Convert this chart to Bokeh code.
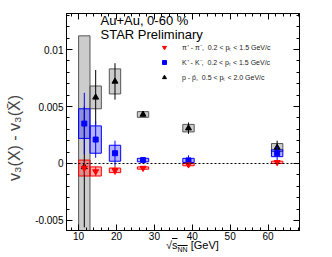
import numpy as np
from bokeh.plotting import figure
from bokeh.layouts import column
from bokeh.models import (ColumnDataSource, Span, Label, LinearAxis, FixedTicker,
                          CustomJSTickFormatter, Legend, LegendItem, Range1d, Div)
from bokeh.embed import file_html
from bokeh.resources import INLINE

# ---------------- data ----------------
energies = [11.5, 14.5, 19.6, 27.0, 39.0, 62.4]

proton_val = [-0.0003, 0.0058, 0.0072, 0.0043, 0.0031, 0.0014]
proton_stat = [0.0053, 0.0024, 0.0016, 0.0002, 0.0005, 0.0006]
proton_sys = [0.0115, 0.0010, 0.0011, 0.00025, 0.00033, 0.00035]

kaon_val = [0.0035, 0.0021, 0.0009, 0.0003, 0.00027, 0.0009]
kaon_stat = [0.0027, 0.0016, 0.0011, 0.0002, 0.00045, 0.0006]
kaon_sys = [0.0013, 0.0012, 0.0007, 0.00015, 0.00018, 0.0003]

pion_val = [-0.0004, -0.0007, -0.0006, -0.0004, -0.0001, 0.0001]
pion_stat = [0.0006, 0.0004, 0.0004, 0.00015, 0.0001, 0.0001]
pion_sys = [0.0007, 0.0004, 0.0002, 0.0001, 0.0001, 0.0001]

sys_box_width = 3.0

x_major = [10, 20, 30, 40, 50, 60]
x_minor = list(range(8, 69, 2))
y_major = [-0.005, 0.0, 0.005, 0.01]
y_minor = [round(-0.005 + 0.001 * i, 4) for i in range(-1, 19)]

legend_labels = ["\u03c0\u207a - \u03c0\u207b,  0.2 < p\u209c < 1.5 GeV/c",
                 "K\u207a - K\u207b,  0.2 < p\u209c < 1.5 GeV/c",
                 "p - p\u0304,  0.5 < p\u209c < 2.0 GeV/c"]
y_title = "v\u2083(X) - v\u2083(X\u0304)"

FONT = "Liberation Sans"

W, H = 332, 257
FL, FR, FT, FB = 66, 299, 13, 230   # frame edges on the page
p = figure(width=W, height=H, output_backend="svg", toolbar_location=None,
           x_range=Range1d(6.8, 68.3), y_range=Range1d(-0.00588, 0.01316),
           min_border_left=FL, min_border_right=W - FR, min_border_top=FT,
           min_border_bottom=H - FB, x_axis_type=None, y_axis_type=None)
p.grid.visible = False
p.outline_line_color = "black"
p.outline_line_width = 1
p.background_fill_color = "white"
p.border_fill_color = "white"


def make_axis(labels=True):
    ax = LinearAxis()
    ax.major_tick_in = 6
    ax.major_tick_out = 0
    ax.minor_tick_in = 3
    ax.minor_tick_out = 0
    ax.axis_line_color = "black"
    ax.major_tick_line_color = "black"
    ax.minor_tick_line_color = "black"
    ax.major_label_text_font = FONT
    ax.major_label_text_font_size = "10px"
    ax.major_label_text_color = "black"
    ax.major_label_standoff = 3
    ax.formatter = CustomJSTickFormatter(code="return tick.toString();")
    if not labels:
        ax.formatter = CustomJSTickFormatter(code="return '';")
        ax.major_label_standoff = 0
        ax.major_label_text_font_size = "1px"
    return ax


xt = FixedTicker(ticks=x_major, minor_ticks=x_minor)
yt = FixedTicker(ticks=y_major, minor_ticks=y_minor)

bx = make_axis(True); bx.ticker = xt; bx.major_label_standoff = 1
tx = make_axis(False); tx.ticker = xt
ly = make_axis(True); ly.ticker = yt
ly.axis_label = y_title + "\u2003\u2003"
ly.axis_label_text_font = FONT
ly.axis_label_text_font_size = "16px"
ly.axis_label_text_font_style = "normal"
ly.axis_label_standoff = 9
ry = make_axis(False); ry.ticker = yt
p.add_layout(bx, "below")
p.add_layout(tx, "above")
p.add_layout(ly, "left")
p.add_layout(ry, "right")

p.add_layout(Span(location=0, dimension="width", line_color="black",
                  line_dash="2 2", line_width=1))


def species(val, stat, sys, fill, falpha, lcolor):
    x = np.array(energies)
    v = np.array(val); st = np.array(stat); sy = np.array(sys)
    src = ColumnDataSource(dict(x=x, v=v, lo=v - st, hi=v + st,
                                bl=x - sys_box_width / 2, br=x + sys_box_width / 2,
                                bb=v - sy, bt=v + sy))
    p.quad(left="bl", right="br", bottom="bb", top="bt", source=src,
           fill_color=fill, fill_alpha=falpha, line_color=lcolor, line_width=1)
    return src


def points(src, color, marker, msize):
    p.segment(x0="x", x1="x", y0="lo", y1="hi", source=src, line_color=color,
              line_width=1)
    r = p.scatter(x="x", y="v", source=src, marker=marker, size=msize,
                  fill_color=color, line_color=color)
    return r


sp = species(proton_val, proton_stat, proton_sys, "grey", 0.4, "#555555")
sk = species(kaon_val, kaon_stat, kaon_sys, "blue", 0.3, "blue")
spi = species(pion_val, pion_stat, pion_sys, "red", 0.3, "red")
rp = points(sp, "black", "triangle", 6)
rk = points(sk, "blue", "square", 5)
rpi = points(spi, "red", "inverted_triangle", 6)

legend = Legend(items=[LegendItem(label=legend_labels[0], renderers=[rpi]),
                       LegendItem(label=legend_labels[1], renderers=[rk]),
                       LegendItem(label=legend_labels[2], renderers=[rp])],
                location=(93, 147), padding=0, margin=0, spacing=3,
                glyph_width=10, glyph_height=12, label_standoff=13,
                label_text_font=FONT, label_text_font_size="7px",
                label_height=12, label_text_color="#222222",
                border_line_color=None, background_fill_alpha=0)
p.add_layout(legend, "center")


def page_label(text, px, py, size, angle=0.0, align="left", baseline="middle"):
    # screen units of a Label are measured from the frame's bottom-left corner
    lab = Label(x=px - FL, y=FB - py, x_units="screen", y_units="screen",
                text=text, text_font=FONT, text_font_size=size, angle=angle,
                text_align=align, text_baseline=baseline, text_color="black")
    p.add_layout(lab)


page_label("Au+Au, 0-60 %", 100, 20, "13px")
page_label("STAR Preliminary", 100, 34, "13px")

x_title = Div(
    text='\u221a<span style="text-decoration: overline">s<sub style="font-size:7px">NN</sub></span> [GeV]',
    styles={"font-family": FONT, "font-size": "11px", "line-height": "16px",
            "color": "black", "white-space": "nowrap"},
    width=70, height=16, margin=(-20, 0, 0, 166))

layout = column(p, x_title, spacing=0)
open("out.html", "w").write(file_html(layout, INLINE))
